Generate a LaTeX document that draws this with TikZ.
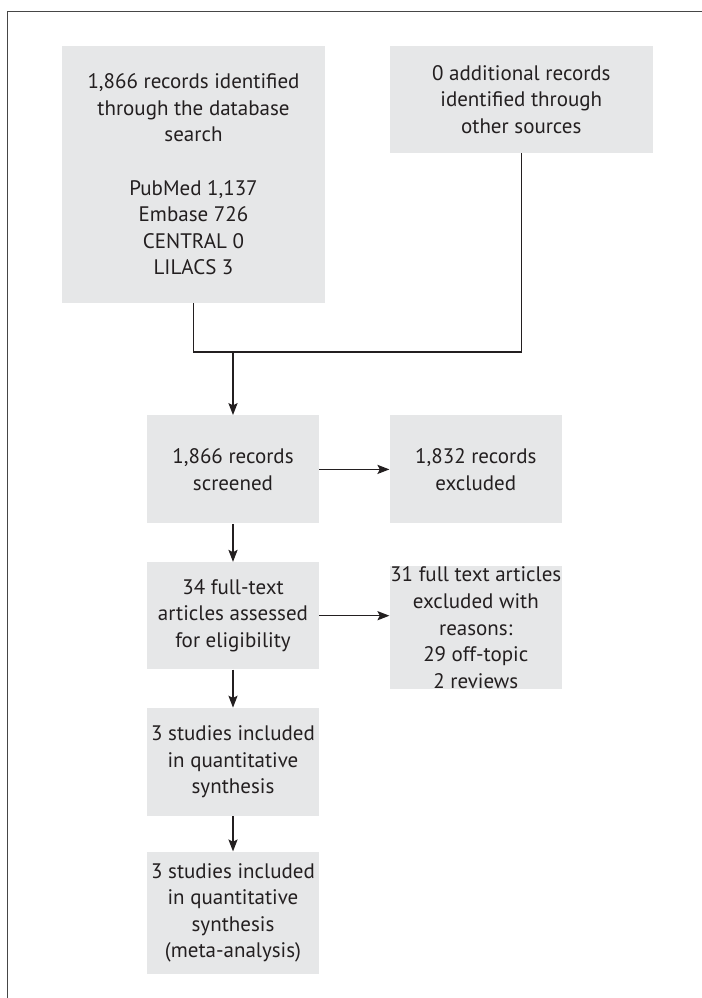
\documentclass[tikz,border=0pt]{standalone}
\usepackage{fontspec}
\usetikzlibrary{arrows.meta,positioning}
\newfontfamily\flowsans{PT Sans}
\definecolor{prismaGrey}{RGB}{230, 231, 232}
\definecolor{prismaInk}{RGB}{35, 31, 32}
\definecolor{prismaFrame}{RGB}{70, 70, 70}

\begin{document}
\begin{tikzpicture}[
  x=0.5pt, y=-0.5pt,
  flowbox/.style={fill=prismaGrey, align=center, inner sep=0pt, text=prismaInk,
                  font=\flowsans\fontsize{10.5pt}{13.3pt}\selectfont},
  widebox/.style={flowbox, minimum width=131.5pt},
  narrowbox/.style={flowbox, minimum width=86pt},
  arrow/.style={-{Stealth[length=6pt,width=4.6pt,inset=1.2pt]}, line width=0.6pt, prismaInk},
  link/.style={line width=0.6pt, prismaInk}
]
\useasboundingbox (0,0) rectangle (702,998);
\draw[prismaFrame, line width=0.5pt] (702,11) -| (7,998);

\node[widebox, minimum height=128.5pt] (dbsearch) at (193.5,174.5)
  {1,866 records identified\\through the database\\search\\[13.3pt]PubMed 1,137\\Embase 726\\CENTRAL 0\\LILACS 3};
\node[widebox, minimum height=53.5pt, right=32pt of dbsearch.north east, anchor=north west] (othersrc)
  {0 additional records\\identified through\\other sources};
\coordinate (join) at (233,352);
\node[narrowbox, minimum height=54pt, below=31.5pt of join] (screened) {1,866 records\\screened};
\node[narrowbox, minimum height=54pt, right=35pt of screened] (excluded) {1,832 records\\excluded};
\node[narrowbox, minimum height=53.5pt, below=19pt of screened] (fulltext)
  {34 full-text\\articles assessed\\for eligibility};
\node[narrowbox, minimum height=61.5pt, right=35pt of fulltext.north east, anchor=north west, yshift=-2pt] (ftexcluded)
  {31 full text articles\\excluded with\\reasons:\\29 off-topic\\2 reviews};
\node[narrowbox, minimum height=54pt, below=19pt of fulltext] (quantsyn)
  {3 studies included\\in quantitative\\synthesis};
\node[narrowbox, minimum height=61pt, below=17.5pt of quantsyn] (metaanalysis)
  {3 studies included\\in quantitative\\synthesis\\(meta-analysis)};

\draw[link] (dbsearch.south) |- (join) -| (othersrc.south);
\draw[arrow] (join) -- (screened);
\draw[arrow] (screened) -- (excluded);
\draw[arrow] (screened) -- (fulltext);
\draw[arrow] (fulltext.east) -- (fulltext.east -| ftexcluded.west);
\draw[arrow] (fulltext) -- (quantsyn);
\draw[arrow] (quantsyn) -- (metaanalysis);
\end{tikzpicture}
\end{document}
